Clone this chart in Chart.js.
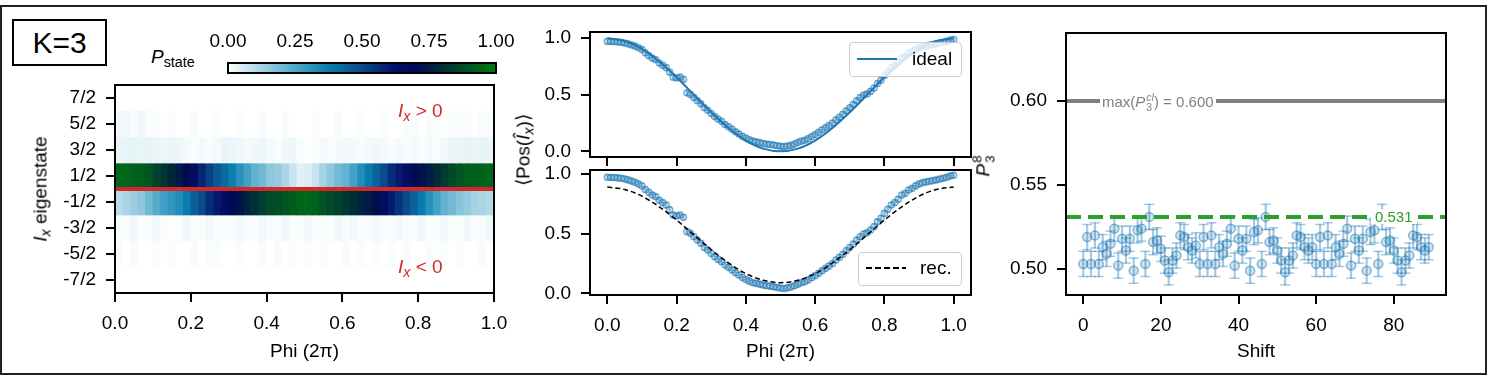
<!DOCTYPE html>
<html>
<head>
<meta charset="utf-8">
<script src="https://cdn.jsdelivr.net/npm/chart.js@4.4.1/dist/chart.umd.min.js"></script>
<style>
  body { margin: 0; background: #fff; font-family: "Liberation Sans", Arial, sans-serif; }
  #fig { position: relative; width: 1491px; height: 380px; overflow: hidden; background: #fff; }
  canvas { position: absolute; }
  .lbl { position: absolute; white-space: nowrap; color: #000; font-size: 19px; line-height: 1; }
  .lbl sub { font-size: 0.75em; vertical-align: -0.3em; line-height: 0; }
  .rot { transform: translate(-50%, -50%) rotate(-90deg); }
  #frame { position: absolute; left: 0; top: 5px; width: 1487px; height: 370px; box-sizing: border-box; border: 2px solid #222; }
  #kbox { position: absolute; left: 12px; top: 19px; width: 95px; height: 47px; box-sizing: border-box; border: 2px solid #000;
          font-size: 30px; line-height: 43px; text-align: center; }
  .leg { position: absolute; box-sizing: border-box; border: 1.5px solid #cccccc; border-radius: 4px; background: rgba(255,255,255,0.8); }
  .leg .swatch { position: absolute; width: 40px; }
  .leg .txt { position: absolute; font-size: 19px; line-height: 1; }
  .ss { display: inline-block; font-size: 0.7em; line-height: 0.95; vertical-align: -0.35em; margin-left: 1px; text-align: left; }
</style>
</head>
<body>
<div id="fig">
  <div id="frame"></div>
  <div id="kbox">K=3</div>
  <canvas id="cbar" width="320" height="60" style="left:200px;top:20px"></canvas>
  <canvas id="heat" width="500" height="300" style="left:20px;top:75px"></canvas>
  <canvas id="posTop" width="470" height="150" style="left:530px;top:20px"></canvas>
  <canvas id="posBot" width="470" height="210" style="left:530px;top:160px"></canvas>
  <canvas id="shift" width="480" height="350" style="left:1000px;top:20px"></canvas>

  <div class="lbl" style="left:151px;top:47px"><i>P</i><sub>state</sub></div>
  <div class="lbl" style="left:398px;top:101px;color:#d62728"><i>I</i><sub><i>x</i></sub> &gt; 0</div>
  <div class="lbl" style="left:398px;top:257px;color:#d62728"><i>I</i><sub><i>x</i></sub> &lt; 0</div>
  <div class="lbl rot" style="left:40px;top:189px"><i>I</i><sub><i>x</i></sub> eigenstate</div>
  <div class="lbl rot" style="left:523px;top:150px">&#10216;Pos(<i>&#206;</i><sub><i>x</i></sub>)&#10217;</div>
  <div class="lbl rot" style="left:984px;top:166px"><i>P</i><span class="ss">8<br>3</span></div>

  <div class="leg" style="left:849px;top:42px;width:113px;height:35px">
    <div class="swatch" style="left:7px;top:15px;height:2px;background:#1f77b4"></div>
    <div class="txt" style="left:62px;top:6px">ideal</div>
  </div>
  <div class="leg" style="left:858px;top:252px;width:104px;height:34px">
    <div class="swatch" style="left:7px;top:14px;height:1.5px;background:repeating-linear-gradient(90deg,#000 0 6px,transparent 6px 9px)"></div>
    <div class="txt" style="left:61px;top:5px">rec.</div>
  </div>

  <div class="lbl" style="left:1100px;top:93px;font-size:15px;color:#808080;background:#fff;padding:0 2px">max(<i>P</i><span class="ss"><i>cl</i><br>3</span>) = 0.600</div>
  <div class="lbl" style="left:1371px;top:209px;font-size:15px;color:#2ca02c;background:#fff;padding:0 4px">0.531</div>
</div>

<script>
// ---- data ----
const stateTicks = [3.5, 2.5, 1.5, 0.5, -0.5, -1.5, -2.5, -3.5];
const stateLabels = ["7/2", "5/2", "3/2", "1/2", "-1/2", "-3/2", "-5/2", "-7/2"];
const stateRows = [2.5, 1.5, 0.5, -0.5, -1.5, -2.5];

const heatPhi = [0.01, 0.03, 0.05, 0.07, 0.09, 0.11, 0.13, 0.15, 0.17, 0.19,
  0.21, 0.23, 0.25, 0.27, 0.29, 0.31, 0.33, 0.35, 0.37, 0.39,
  0.41, 0.43, 0.45, 0.47, 0.49, 0.51, 0.53, 0.55, 0.57, 0.59,
  0.61, 0.63, 0.65, 0.67, 0.69, 0.71, 0.73, 0.75, 0.77, 0.79,
  0.81, 0.83, 0.85, 0.87, 0.89, 0.91, 0.93, 0.95, 0.97, 0.99];

const pState52 = [0.02, 0.02, 0.01, 0.02, 0.01, 0.01, 0.00, 0.01, 0.00, 0.00,
  0.01, 0.00, 0.00, 0.01, 0.00, 0.00, 0.01, 0.00, 0.00, 0.01,
  0.00, 0.00, 0.01, 0.00, 0.00, 0.00, 0.01, 0.00, 0.00, 0.01,
  0.00, 0.00, 0.01, 0.00, 0.00, 0.01, 0.00, 0.00, 0.01, 0.01,
  0.00, 0.01, 0.01, 0.00, 0.01, 0.01, 0.01, 0.00, 0.01, 0.01];
const pState32 = [0.03, 0.035, 0.035, 0.03, 0.035, 0.03, 0.025, 0.03, 0.025, 0.015,
  0.01, 0.015, 0.01, 0.015, 0.03, 0.025, 0.02, 0.015, 0.02, 0.025,
  0.015, 0.01, 0.02, 0.025, 0.01, 0.005, 0.01, 0.015, 0.01, 0.015,
  0.02, 0.015, 0.01, 0.015, 0.02, 0.015, 0.01, 0.015, 0.01, 0.015,
  0.01, 0.015, 0.01, 0.02, 0.03, 0.03, 0.035, 0.03, 0.035, 0.03];
const pState12 = [0.95, 0.95, 0.93, 0.92, 0.90, 0.85, 0.82, 0.78, 0.74, 0.70,
  0.66, 0.58, 0.52, 0.47, 0.42, 0.37, 0.32, 0.27, 0.22, 0.20,
  0.16, 0.15, 0.12, 0.08, 0.04, 0.05, 0.08, 0.13, 0.16, 0.20,
  0.22, 0.27, 0.33, 0.38, 0.44, 0.50, 0.56, 0.60, 0.64, 0.69,
  0.72, 0.75, 0.79, 0.83, 0.87, 0.90, 0.92, 0.93, 0.94, 0.95];
const pStateM12 = [0.10, 0.12, 0.14, 0.16, 0.20, 0.24, 0.28, 0.30, 0.33, 0.38,
  0.45, 0.50, 0.56, 0.60, 0.65, 0.70, 0.72, 0.77, 0.80, 0.84,
  0.87, 0.88, 0.90, 0.92, 0.94, 0.95, 0.93, 0.90, 0.87, 0.85,
  0.82, 0.79, 0.77, 0.74, 0.71, 0.66, 0.60, 0.55, 0.50, 0.44,
  0.38, 0.32, 0.27, 0.22, 0.20, 0.17, 0.15, 0.13, 0.12, 0.11];
const pStateM32 = [0.01, 0.01, 0.02, 0.01, 0.01, 0.02, 0.01, 0.00, 0.01, 0.02,
  0.01, 0.01, 0.02, 0.01, 0.01, 0.01, 0.02, 0.01, 0.01, 0.02,
  0.01, 0.01, 0.02, 0.01, 0.01, 0.02, 0.01, 0.01, 0.01, 0.02,
  0.01, 0.02, 0.01, 0.01, 0.02, 0.01, 0.01, 0.02, 0.01, 0.01,
  0.02, 0.01, 0.01, 0.02, 0.01, 0.01, 0.02, 0.01, 0.01, 0.02];
const pStateM52 = [0.01, 0.00, 0.01, 0.00, 0.00, 0.01, 0.00, 0.01, 0.00, 0.00,
  0.01, 0.00, 0.01, 0.01, 0.00, 0.00, 0.01, 0.00, 0.00, 0.01,
  0.00, 0.01, 0.00, 0.01, 0.00, 0.01, 0.00, 0.01, 0.00, 0.00,
  0.01, 0.00, 0.01, 0.00, 0.01, 0.00, 0.01, 0.00, 0.01, 0.00,
  0.00, 0.01, 0.00, 0.01, 0.00, 0.01, 0.00, 0.00, 0.01, 0.00];
const heatRows = [pState52, pState32, pState12, pStateM12, pStateM32, pStateM52];

const phi = [0.00, 0.01, 0.02, 0.03, 0.04, 0.05, 0.06, 0.07, 0.08, 0.09,
  0.10, 0.11, 0.12, 0.13, 0.14, 0.15, 0.16, 0.17, 0.18, 0.19,
  0.20, 0.21, 0.22, 0.23, 0.24, 0.25, 0.26, 0.27, 0.28, 0.29,
  0.30, 0.31, 0.32, 0.33, 0.34, 0.35, 0.36, 0.37, 0.38, 0.39,
  0.40, 0.41, 0.42, 0.43, 0.44, 0.45, 0.46, 0.47, 0.48, 0.49,
  0.50, 0.51, 0.52, 0.53, 0.54, 0.55, 0.56, 0.57, 0.58, 0.59,
  0.60, 0.61, 0.62, 0.63, 0.64, 0.65, 0.66, 0.67, 0.68, 0.69,
  0.70, 0.71, 0.72, 0.73, 0.74, 0.75, 0.76, 0.77, 0.78, 0.79,
  0.80, 0.81, 0.82, 0.83, 0.84, 0.85, 0.86, 0.87, 0.88, 0.89,
  0.90, 0.91, 0.92, 0.93, 0.94, 0.95, 0.96, 0.97, 0.98, 0.99, 1.00];
const posIx = [0.972, 0.970, 0.970, 0.967, 0.964, 0.958, 0.950, 0.940, 0.930, 0.916,
  0.900, 0.870, 0.846, 0.824, 0.810, 0.780, 0.760, 0.740, 0.700, 0.656,
  0.648, 0.656, 0.637, 0.517, 0.503, 0.475, 0.447, 0.420, 0.385, 0.363,
  0.335, 0.307, 0.285, 0.265, 0.237, 0.218, 0.196, 0.173, 0.154, 0.134,
  0.117, 0.103, 0.090, 0.084, 0.078, 0.070, 0.064, 0.061, 0.056, 0.050,
  0.045, 0.042, 0.047, 0.053, 0.064, 0.078, 0.090, 0.098, 0.112, 0.131,
  0.148, 0.168, 0.190, 0.210, 0.229, 0.251, 0.279, 0.302, 0.327, 0.358,
  0.385, 0.413, 0.447, 0.475, 0.497, 0.508, 0.530, 0.559, 0.600, 0.628,
  0.670, 0.704, 0.740, 0.760, 0.788, 0.824, 0.838, 0.866, 0.880, 0.900,
  0.916, 0.927, 0.933, 0.939, 0.944, 0.950, 0.958, 0.964, 0.972, 0.983, 0.989];
const posErr = 0.022;

const curvePhi = [0.00, 0.05, 0.10, 0.15, 0.20, 0.25, 0.30, 0.35, 0.40, 0.45, 0.50,
  0.55, 0.60, 0.65, 0.70, 0.75, 0.80, 0.85, 0.90, 0.95, 1.00];
const idealPos = [1.000, 0.976, 0.905, 0.794, 0.655, 0.500, 0.345, 0.206, 0.095, 0.024, 0.000,
  0.024, 0.095, 0.206, 0.345, 0.500, 0.655, 0.794, 0.905, 0.976, 1.000];
const recPos = [0.890, 0.870, 0.814, 0.725, 0.614, 0.490, 0.366, 0.255, 0.166, 0.110, 0.090,
  0.110, 0.166, 0.255, 0.366, 0.490, 0.614, 0.725, 0.814, 0.870, 0.890];

const shifts = [0, 1, 2, 3, 4, 5, 6, 7, 8, 9, 10, 11, 12, 13, 14, 15, 16, 17, 18, 19,
  20, 21, 22, 23, 24, 25, 26, 27, 28, 29, 30, 31, 32, 33, 34, 35, 36, 37, 38, 39,
  40, 41, 42, 43, 44, 45, 46, 47, 48, 49, 50, 51, 52, 53, 54, 55, 56, 57, 58, 59,
  60, 61, 62, 63, 64, 65, 66, 67, 68, 69, 70, 71, 72, 73, 74, 75, 76, 77, 78, 79,
  80, 81, 82, 83, 84, 85, 86, 87, 88, 89];
const p38 = [0.503, 0.519, 0.503, 0.520, 0.503, 0.513, 0.509, 0.515, 0.524, 0.502,
  0.518, 0.511, 0.518, 0.499, 0.523, 0.524, 0.503, 0.531, 0.516, 0.517,
  0.512, 0.505, 0.498, 0.505, 0.508, 0.520, 0.519, 0.513, 0.511, 0.514,
  0.503, 0.519, 0.503, 0.520, 0.503, 0.513, 0.509, 0.515, 0.524, 0.502,
  0.518, 0.511, 0.518, 0.499, 0.522, 0.523, 0.503, 0.531, 0.516, 0.517,
  0.511, 0.505, 0.498, 0.505, 0.508, 0.520, 0.519, 0.513, 0.511, 0.513,
  0.503, 0.519, 0.503, 0.520, 0.503, 0.513, 0.509, 0.515, 0.524, 0.502,
  0.518, 0.511, 0.518, 0.499, 0.522, 0.523, 0.503, 0.531, 0.516, 0.517,
  0.511, 0.505, 0.498, 0.505, 0.508, 0.520, 0.519, 0.513, 0.511, 0.513];
const p38Err = 0.0075;
const classicalMax = 0.600;
const meanP38 = 0.531;

const cbarTicks = [0, 0.25, 0.5, 0.75, 1];
const phiTicks = [0, 0.2, 0.4, 0.6, 0.8, 1.0];
const posTicks = [0, 0.5, 1.0];
const shiftTicks = [0, 20, 40, 60, 80];
const p38Ticks = [0.50, 0.55, 0.60];
const shiftRange = [-4.45, 93.45];

// ---- style ----
Chart.defaults.font.family = "'Liberation Sans', Arial, sans-serif";
Chart.defaults.font.size = 19;
Chart.defaults.color = "#000";
Chart.defaults.animation = false;
Chart.defaults.events = [];
Chart.defaults.plugins.legend.display = false;
Chart.defaults.plugins.tooltip.enabled = false;

const blue = "#1f77b4";
const cmapStops = [
  [0.00, [255, 255, 255]], [0.25, [79, 168, 200]], [0.37, [10, 127, 178]],
  [0.50, [10, 75, 138]], [0.62, [2, 16, 106]], [0.70, [0, 10, 82]],
  [0.78, [0, 40, 58]], [1.00, [0, 122, 16]]
];
function cmap(v) {
  for (let i = 1; i < cmapStops.length; i++) {
    if (v <= cmapStops[i][0]) {
      const [a, ca] = cmapStops[i - 1], [b, cb] = cmapStops[i];
      const t = (v - a) / (b - a);
      const c = ca.map((x, k) => Math.round(x + (cb[k] - x) * t));
      return "rgb(" + c.join(",") + ")";
    }
  }
  return "rgb(0,122,16)";
}

const framePlugin = {
  id: "frame",
  afterDraw(chart) {
    const a = chart.chartArea, ctx = chart.ctx;
    ctx.save();
    ctx.strokeStyle = "#000";
    ctx.lineWidth = 2;
    ctx.strokeRect(a.left, a.top, a.right - a.left, a.bottom - a.top);
    ctx.restore();
  }
};

function axis(min, max, ticks, fmt, size, extra) {
  return Object.assign({
    type: "linear", min: min, max: max, offset: false,
    afterBuildTicks: s => { s.ticks = ticks.map(v => ({ value: v })); },
    afterFit: s => {
      if (s.isHorizontal()) s.height = size; else s.width = size;
      // keep the plot box where the layout padding puts it
      s.paddingTop = s.paddingBottom = s.paddingLeft = s.paddingRight = 0;
    },
    ticks: { callback: (v, i) => fmt(v, i), padding: 10, autoSkip: false, maxRotation: 0 },
    grid: { drawOnChartArea: false, drawTicks: true, tickLength: 9, color: "#000", lineWidth: 2, offset: false },
    border: { display: false }
  }, extra || {});
}

function errorSets(xs, ys, err, color, capR, w) {
  return [
    { type: "bar", data: xs.map((x, i) => ({ x: x, y: [ys[i] - err, ys[i] + err] })),
      backgroundColor: color, barThickness: w, grouped: false, order: 3 },
    { type: "scatter", data: xs.map((x, i) => ({ x: x, y: ys[i] - err })).concat(xs.map((x, i) => ({ x: x, y: ys[i] + err }))),
      pointStyle: "line", pointRadius: capR, borderColor: color, borderWidth: w, order: 2 }
  ];
}

// ---- colorbar ----
new Chart(document.getElementById("cbar"), {
  type: "bar",
  data: {
    labels: [""],
    datasets: [{
      data: [[0, 1]],
      barPercentage: 1, categoryPercentage: 1, borderWidth: 0,
      backgroundColor: ctx => {
        const a = ctx.chart.chartArea;
        if (!a) return "#fff";
        const g = ctx.chart.ctx.createLinearGradient(a.left, 0, a.right, 0);
        cmapStops.forEach(s => g.addColorStop(s[0], "rgb(" + s[1].join(",") + ")"));
        return g;
      }
    }]
  },
  options: {
    indexAxis: "y", responsive: false,
    layout: { padding: { left: 28, right: 24, top: 0, bottom: 7 } },
    scales: {
      x: axis(0, 1, cbarTicks, v => v.toFixed(2), 43, {
        position: "top", z: 1,
        grid: { drawOnChartArea: true, drawTicks: false, color: "#000", lineWidth: 2 }
      }),
      y: { display: false }
    }
  },
  plugins: [framePlugin]
});

// ---- heatmap ----
const heatSets = stateRows.map((r, i) => ({
  type: "bar",
  data: heatPhi.map(p => ({ x: p, y: [r - 0.5, r + 0.5] })),
  backgroundColor: heatRows[i].map(cmap),
  borderWidth: 0, grouped: false, barPercentage: 1, categoryPercentage: 1, order: 2
}));
heatSets.push({
  type: "line", data: [{ x: 0, y: 0 }, { x: 1, y: 0 }],
  borderColor: "#d62728", borderWidth: 4, pointRadius: 0, order: 0
});
new Chart(document.getElementById("heat"), {
  type: "scatter",
  data: { datasets: heatSets },
  options: {
    responsive: false,
    layout: { padding: { left: 0, right: 26, top: 10, bottom: 12 } },
    scales: {
      x: axis(0, 1, phiTicks, v => v.toFixed(1), 70, {
        title: { display: true, text: "Phi (2\u03c0)", padding: { top: 0, bottom: 0 } }
      }),
      y: axis(-4, 4, stateTicks, (v, i) => stateLabels[i], 95)
    }
  },
  plugins: [framePlugin]
});

// ---- <Pos> panels ----
function posChart(id, curve, pad, xh, yRange, showX) {
  const pts = phi.map((p, i) => ({ x: p, y: posIx[i] }));
  const sets = [{
    type: "scatter", data: pts, pointRadius: 3.2, borderWidth: 1.2,
    borderColor: "rgba(31,119,180,0.55)", backgroundColor: "rgba(31,119,180,0.25)", order: 1
  }].concat(errorSets(phi, posIx, posErr, "rgba(31,119,180,0.35)", 2.5, 1.2));
  sets.push(curve);
  new Chart(document.getElementById(id), {
    type: "scatter",
    data: { datasets: sets },
    options: {
      responsive: false,
      layout: { padding: pad },
      scales: {
        x: axis(-0.05, 1.05, phiTicks, v => v.toFixed(1), xh, showX ? {
          title: { display: true, text: "Phi (2\u03c0)", padding: { top: 0, bottom: 0 } }
        } : { ticks: { display: false } }),
        y: axis(yRange[0], yRange[1], posTicks, v => v.toFixed(1), 60)
      }
    },
    plugins: [framePlugin]
  });
}
posChart("posTop", {
  type: "line", data: curvePhi.map((p, i) => ({ x: p, y: idealPos[i] })),
  borderColor: blue, borderWidth: 2, pointRadius: 0, cubicInterpolationMode: "monotone", order: 0
}, { left: 0, right: 29, top: 12, bottom: 3 }, 10, [-0.05, 1.055], false);
posChart("posBot", {
  type: "line", data: curvePhi.map((p, i) => ({ x: p, y: recPos[i] })),
  borderColor: "#000", borderWidth: 1.5, borderDash: [5, 3], pointRadius: 0, cubicInterpolationMode: "monotone", order: 0
}, { left: 0, right: 29, top: 10, bottom: 7 }, 68, [-0.013, 1.033], true);

// ---- P_3^8 vs shift ----
const shiftSets = [{
  type: "scatter", data: shifts.map((s, i) => ({ x: s, y: p38[i] })),
  pointRadius: 4.5, borderWidth: 1.5,
  borderColor: "rgba(31,119,180,0.5)", backgroundColor: "rgba(31,119,180,0.2)", order: 1
}].concat(errorSets(shifts, p38, p38Err, "rgba(31,119,180,0.4)", 5, 1.5));
shiftSets.push({
  type: "line", data: shiftRange.map(x => ({ x: x, y: classicalMax })),
  borderColor: "#808080", borderWidth: 4, pointRadius: 0, order: 0
});
shiftSets.push({
  type: "line", data: shiftRange.map(x => ({ x: x, y: meanP38 })),
  borderColor: "#2ca02c", borderWidth: 4, borderDash: [15, 7], pointRadius: 0, order: 0
});
new Chart(document.getElementById("shift"), {
  type: "scatter",
  data: { datasets: shiftSets },
  options: {
    responsive: false,
    layout: { padding: { left: 0, right: 34, top: 13, bottom: 7 } },
    scales: {
      x: axis(shiftRange[0], shiftRange[1], shiftTicks, v => String(v), 68, {
        title: { display: true, text: "Shift", padding: { top: 0, bottom: 0 } }
      }),
      y: axis(0.4845, 0.6405, p38Ticks, v => v.toFixed(2), 66)
    }
  },
  plugins: [framePlugin]
});
</script>
</body>
</html>
